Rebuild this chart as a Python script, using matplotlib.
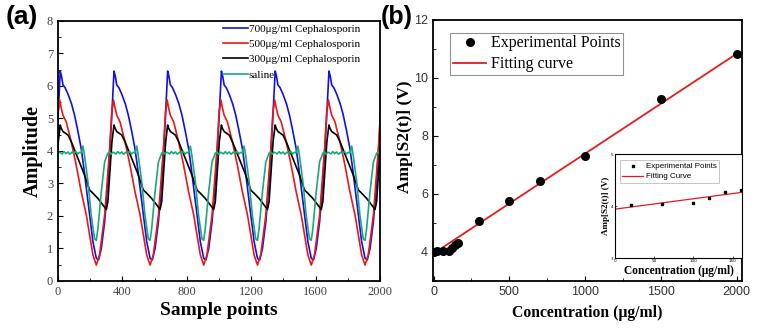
import matplotlib.pyplot as plt
import numpy as np
from matplotlib.ticker import MultipleLocator

# ---- panel (a): one cycle of each waveform ----
# positions are relative to the blue peak of each cycle
peaks = [-319, 14, 348, 681, 1015, 1349, 1683, 2016]

blue_rel = [0, 8, 17, 30, 48, 70, 89, 110, 130, 146, 162, 182, 203, 224, 238, 255, 276, 296, 317]
blue_val = [6.46, 6.3, 6.03, 5.95, 5.75, 5.45, 5.1, 4.6, 4.08, 3.5, 2.85, 2.03, 1.21, 0.7, 0.65, 1.0, 1.83, 3.06, 4.8]

red_rel = [-3, 5, 17, 37, 52, 68, 99, 130, 162, 182, 203, 224, 244, 276, 307, 320]
red_val = [5.57, 5.35, 5.1, 4.9, 4.6, 4.29, 3.57, 2.75, 2.03, 1.42, 0.8, 0.49, 0.8, 2.03, 4.08, 5.2]

black_rel = [0, 6, 17, 48, 68, 110, 151, 182, 203, 234, 265, 286, 296, 307, 321]
black_val = [4.8, 4.7, 4.6, 4.49, 4.29, 3.77, 3.26, 2.8, 2.7, 2.54, 2.34, 2.2, 2.44, 3.26, 4.29]

green_rel = [0, 12, 24, 36, 48, 60, 72, 84, 96, 108, 120, 130, 141, 151, 172, 192, 213, 224, 234,
             255, 276, 296, 306, 316, 326]
green_val = [3.95, 3.91, 3.98, 3.92, 3.97, 3.9, 3.96, 3.93, 3.99, 3.91, 3.96, 3.94, 4.15, 3.85, 3.06,
             2.03, 1.3, 1.25, 1.62, 2.75, 3.67, 3.93, 3.97, 3.9, 3.96]

labels_a = ["700μg/ml Cephalosporin", "500μg/ml Cephalosporin", "300μg/ml Cephalosporin", "saline"]
colors_a = ["#1010e0", "#e81818", "#000000", "#1aa878"]

# ---- panel (b) ----
conc = [0, 20, 60, 100, 120, 140, 160, 300, 500, 700, 1000, 1500, 2000]
amp = [4.0, 4.02, 4.02, 4.04, 4.15, 4.24, 4.3, 5.07, 5.77, 6.46, 7.32, 9.26, 10.82]
fit_x = [0, 2000]
fit_y = [3.95, 10.83]

inset_conc = [20, 60, 100, 120, 140, 160]
inset_amp = [4.02, 4.04, 4.05, 4.15, 4.26, 4.3]
inset_fit_x = [0, 165]
inset_fit_y = [3.94, 4.27]


def tile(rel, val):
    xs, ys = [], []
    for p in peaks:
        xs += [p + r for r in rel]
        ys += val
    return xs, ys


serif = "Liberation Serif"
sans = "Liberation Sans"

fig = plt.figure(figsize=(7.62, 3.28), dpi=100)

# panel (a)
ax1 = fig.add_axes([0.0761, 0.1433, 0.4226, 0.7927])
for (rel, val), lab, col in zip([(blue_rel, blue_val), (red_rel, red_val),
                                 (black_rel, black_val), (green_rel, green_val)],
                                labels_a, colors_a):
    xs, ys = tile(rel, val)
    ax1.plot(xs, ys, color=col, lw=1.2, label=lab)
ax1.set_xlim(0, 2000)
ax1.set_ylim(0, 8)
ax1.xaxis.set_major_locator(MultipleLocator(400))
ax1.xaxis.set_minor_locator(MultipleLocator(200))
ax1.yaxis.set_major_locator(MultipleLocator(1))
ax1.yaxis.set_minor_locator(MultipleLocator(0.5))
ax1.tick_params(which="both", direction="in", labelsize=9, labelcolor="#444444")
ax1.tick_params(which="major", length=3.5)
ax1.tick_params(which="minor", length=2)
for lab in ax1.get_xticklabels() + ax1.get_yticklabels():
    lab.set_fontfamily(serif)
for s in ax1.spines.values():
    s.set_linewidth(1.3)
ax1.set_xlabel("Sample points", fontfamily=serif, fontweight="bold", fontsize=14, labelpad=3)
ax1.set_ylabel("Amplitude", fontfamily=serif, fontweight="bold", fontsize=14.5)
ax1.yaxis.set_label_coords(-0.046, 0.5)
ax1.legend(loc="upper left", bbox_to_anchor=(0.505, 1.0), frameon=False,
           prop={"family": serif, "size": 8}, handlelength=2.2, labelspacing=0.5,
           borderaxespad=0, borderpad=0.25, handletextpad=0.1)
fig.text(0.007, 0.985, "(a)", fontfamily=sans, fontweight="bold", fontsize=19, va="top")

# panel (b)
ax2 = fig.add_axes([0.568, 0.1433, 0.4055, 0.796])
ax2.plot(fit_x, fit_y, color="#e41c1c", lw=1.3, label="Fitting curve")
ax2.plot(conc, amp, "o", color="black", ms=5.5, label="Experimental Points")
ax2.set_xlim(-5, 2035)
ax2.set_ylim(3, 12)
ax2.set_yticks([4, 6, 8, 10, 12])
ax2.xaxis.set_minor_locator(MultipleLocator(250))
ax2.yaxis.set_minor_locator(MultipleLocator(1))
ax2.tick_params(which="both", direction="in", labelsize=9, labelcolor="#333333")
ax2.tick_params(which="major", length=3.5)
ax2.tick_params(which="minor", length=2)
for lab in ax2.get_xticklabels() + ax2.get_yticklabels():
    lab.set_fontfamily(sans)
for s in ax2.spines.values():
    s.set_linewidth(1.3)
ax2.set_xlabel("Concentration (μg/ml)", fontfamily=serif, fontweight="bold", fontsize=11.3, labelpad=5)
ax2.set_ylabel("Amp[S2(t)] (V)", fontfamily=serif, fontweight="bold", fontsize=12.5)
ax2.yaxis.set_label_coords(-0.065, 0.552)
h, l = ax2.get_legend_handles_labels()
leg = ax2.legend(h[::-1], l[::-1], loc="upper left", bbox_to_anchor=(0.057, 0.95),
                 prop={"family": serif, "size": 11.5}, fancybox=False, edgecolor="#777777",
                 handlelength=2.1, labelspacing=0.3, borderpad=0.15, handletextpad=0.3,
                 borderaxespad=0)
leg.get_frame().set_linewidth(0.8)
fig.text(0.500, 0.985, "(b)", fontfamily=sans, fontweight="bold", fontsize=18, va="top")

# inset
ax3 = fig.add_axes([0.807, 0.2134, 0.167, 0.317])
ax3.plot(inset_fit_x, inset_fit_y, color="#e41c1c", lw=0.9, label="Fitting Curve")
ax3.plot(inset_conc, inset_amp, "s", color="black", ms=1.6, label="Experimental Points")
ax3.set_xlim(0, 162)
ax3.set_ylim(3, 5)
ax3.set_xticks([0, 50, 100, 150])
ax3.set_yticks([3, 4, 5])
ax3.tick_params(which="both", direction="in", labelsize=3, length=1.5, width=0.5, pad=1)
for s in ax3.spines.values():
    s.set_linewidth(0.8)
ax3.set_xlabel("Concentration (μg/ml)", fontfamily=serif, fontweight="bold", fontsize=8.3, labelpad=1)
ax3.set_ylabel("Amp[S2(t)] (V)", fontfamily=serif, fontweight="bold", fontsize=6.5, labelpad=1)
h, l = ax3.get_legend_handles_labels()
leg3 = ax3.legend(h[::-1], l[::-1], loc="upper left", bbox_to_anchor=(0.04, 0.94),
                  prop={"family": sans, "size": 5.8}, fancybox=False, edgecolor="#999999",
                  handlelength=2.5, labelspacing=0.3, borderpad=0.3, handletextpad=0.4,
                  borderaxespad=0)
leg3.get_frame().set_linewidth(0.5)

fig.savefig("out.png", dpi=100)
